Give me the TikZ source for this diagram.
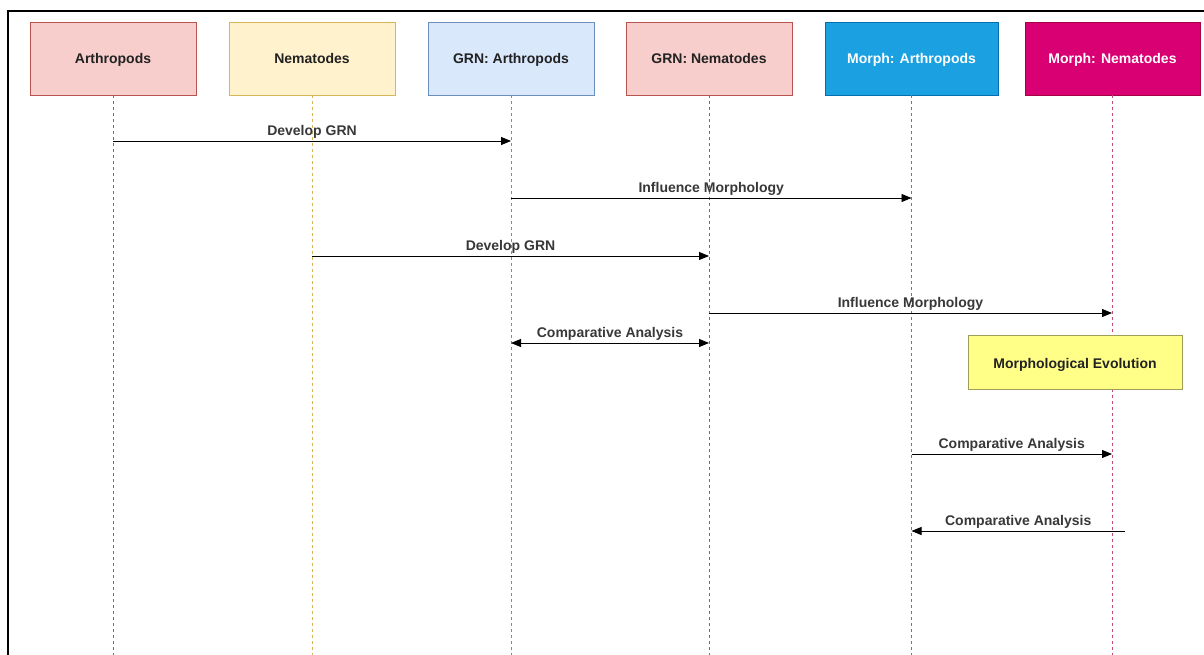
\documentclass[tikz,border=0pt]{standalone}
\usepackage{fontspec}
\setmainfont{Liberation Sans}
\usetikzlibrary{arrows.meta}
\definecolor{redF}{HTML}{F8CECC}\definecolor{redS}{HTML}{B85450}
\definecolor{yelF}{HTML}{FFF2CC}\definecolor{yelS}{HTML}{D6B656}
\definecolor{bluF}{HTML}{DAE8FC}\definecolor{bluS}{HTML}{6C8EBF}
\definecolor{cyaF}{HTML}{1BA1E2}\definecolor{cyaS}{HTML}{006EAF}
\definecolor{magF}{HTML}{D80073}\definecolor{magS}{HTML}{A50040}
\definecolor{noteF}{HTML}{FFFF88}\definecolor{noteS}{HTML}{9E9E5A}
\definecolor{txt}{HTML}{222222}
\tikzset{
  actor/.style={draw, line width=0.8pt, minimum height=73pt, inner sep=0pt,
    text height=12pt, text depth=1pt,
    font=\fontsize{14}{16}\selectfont\bfseries, text=txt},
  life/.style={line width=0.9pt, dash pattern=on 3pt off 3pt},
  msg/.style={line width=0.9pt, black, -{Triangle[length=10pt,width=8pt]}},
  dmsg/.style={line width=0.9pt, black, {Triangle[length=10pt,width=8pt]}-{Triangle[length=10pt,width=8pt]}},
  lbl/.style={font=\fontsize{14}{16}\selectfont\bfseries, text=txt!90!white, above, inner sep=2pt}
}
\begin{document}
\begin{tikzpicture}[x=1pt,y=-1pt]
\useasboundingbox (0,0) rectangle (1204,655);
\fill[white] (0,0) rectangle (1204,655);
\draw[line width=1.4pt] (8,655) -- (8,11) -- (1204,11);
% actors
\node[actor, fill=redF, draw=redS, minimum width=166pt] (arth) at (113,58.5) {Arthropods};
\node[actor, fill=yelF, draw=yelS, minimum width=166pt] (nema) at (312,58.5) {Nematodes};
\node[actor, fill=bluF, draw=bluS, minimum width=166pt] (grna) at (511,58.5) {GRN: Arthropods};
\node[actor, fill=redF, draw=redS, minimum width=166pt] (grnn) at (709,58.5) {GRN: Nematodes};
\node[actor, fill=cyaF, draw=cyaS, minimum width=173pt, text=white] (mora) at (911.5,58.5) {Morph: Arthropods};
\node[actor, fill=magF, draw=magS, minimum width=175pt, text=white] (morn) at (1112.5,58.5) {Morph: Nematodes};
% lifeline ends
\coordinate (bot) at (0,655);
\draw[life, draw=redS] (arth.south) -- (arth.south |- bot);
\draw[life, draw=yelS] (nema.south) -- (nema.south |- bot);
\draw[life, draw=bluS] (grna.south) -- (grna.south |- bot);
\draw[life, draw=redS] (grnn.south) -- (grnn.south |- bot);
\draw[life, draw=cyaS!80!white] (mora.south) -- (mora.south |- bot);
\draw[life, draw=magS!70!white] ([xshift=-0.5pt]morn.south) -- ([xshift=-0.5pt]morn.south |- bot);
% rows
\coordinate (r1) at (0,141);
\coordinate (r2) at (0,198);
\coordinate (r3) at (0,256);
\coordinate (r4) at (0,313);
\coordinate (r5) at (0,343);
\coordinate (r7) at (0,454);
\coordinate (r8) at (0,531);
\coordinate (e8) at (1125,531);
% messages
\draw[msg] (arth.south |- r1) -- node[lbl]{Develop GRN} (grna.south |- r1);
\draw[msg] (grna.south |- r2) -- node[lbl]{Influence Morphology} (mora.south |- r2);
\draw[msg] (nema.south |- r3) -- node[lbl]{Develop GRN} (grnn.south |- r3);
\draw[msg] (grnn.south |- r4) -- node[lbl]{Influence Morphology} ([xshift=-0.5pt]morn.south |- r4);
\draw[dmsg] (grna.south |- r5) -- node[lbl]{Comparative Analysis} (grnn.south |- r5);
\node[draw=noteS, fill=noteF, line width=0.8pt, minimum width=214pt, minimum height=54pt, inner sep=0pt,
  text height=13pt, text depth=0pt,
  font=\fontsize{14}{16}\selectfont\bfseries, text=txt] (evo) at (1075,362) {Morphological Evolution};
\draw[msg] (mora.south |- r7) -- node[lbl]{Comparative Analysis} ([xshift=-0.5pt]morn.south |- r7);
\draw[msg] (e8) -- node[lbl]{Comparative Analysis} (mora.south |- r8);
\end{tikzpicture}
\end{document}
